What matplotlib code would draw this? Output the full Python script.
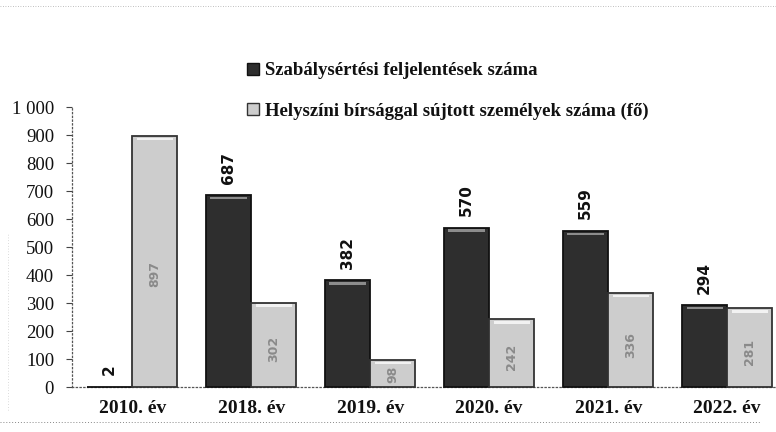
import matplotlib
matplotlib.use("Agg")
import matplotlib.pyplot as plt
from matplotlib.patches import Rectangle
import numpy as np

categories = ["2010. év", "2018. év", "2019. év", "2020. év", "2021. év", "2022. év"]
feljelentes = [2, 687, 382, 570, 559, 294]
birsag = [897, 302, 98, 242, 336, 281]
series_names = ["Szabálysértési feljelentések száma",
                "Helyszíni bírsággal sújtott személyek száma (fő)"]
yticks = [0, 100, 200, 300, 400, 500, 600, 700, 800, 900, 1000]
ytick_labels = ["0", "100", "200", "300", "400", "500", "600", "700", "800", "900", "1 000"]

fig = plt.figure(figsize=(7.76, 4.32), dpi=100)
ax = fig.add_axes([0.093, 0.104, 0.907, 0.648])

x = np.arange(len(categories))
w = 0.38
ax.bar(x - w / 2, feljelentes, width=w, color="#2e2e2e", edgecolor="#111111",
       linewidth=1.3, clip_on=False, zorder=3)
ax.bar(x + w / 2, birsag, width=w, color="#cdcdcd", edgecolor="#333333",
       linewidth=1.3, clip_on=False, zorder=3)

# bevel highlight near the bar tops
fe = np.array(feljelentes, dtype=float)
bi = np.array(birsag, dtype=float)
mask = fe > 30
ax.bar((x - w / 2)[mask], 9, bottom=fe[mask] - 16, width=w * 0.8, color="#8c8c8c",
       linewidth=0, zorder=4)
ax.bar(x + w / 2, 9, bottom=bi - 16, width=w * 0.8, color="#f2f2f2",
       linewidth=0, zorder=4)

ax.set_xlim(-0.504, 5.41)
ax.set_ylim(0, 1000)

for xi, v in zip(x, feljelentes):
    ax.annotate(str(v), (xi - w / 2, v), xytext=(0, 8), textcoords="offset points",
                rotation=90, ha="center", va="bottom", fontsize=11, fontweight="bold",
                family="DejaVu Sans", color="#111111", zorder=5, annotation_clip=False)
for xi, v in zip(x, birsag):
    ax.text(xi + w / 2, v * 0.45, str(v), rotation=90, ha="center", va="center",
            fontsize=9, fontweight="bold", family="DejaVu Sans", color="#8a8a8a", zorder=5)

ax.set_yticks(yticks)
ax.set_yticklabels(ytick_labels, family="Liberation Serif", fontsize=13.5,
                   color="#111111")
ax.set_xticks(x)
ax.set_xticklabels(categories, family="Liberation Serif", fontsize=14, fontweight="bold",
                   color="#111111")
ax.tick_params(axis="x", length=0, pad=9)
ax.tick_params(axis="y", length=4, width=0.8, direction="out", pad=9, color="#444444")

for s in ["top", "right"]:
    ax.spines[s].set_visible(False)
for s in ["left", "bottom"]:
    ax.spines[s].set_linestyle((0, (1, 2)))
    ax.spines[s].set_color("#555555")
    ax.spines[s].set_linewidth(0.9)

handles = [Rectangle((0, 0), 1, 1, facecolor="#2e2e2e", edgecolor="#111111"),
           Rectangle((0, 0), 1, 1, facecolor="#cdcdcd", edgecolor="#333333")]
leg = fig.legend(handles, series_names, loc="upper left", bbox_to_anchor=(0.297, 0.895),
                 frameon=False, ncol=1, handlelength=0.6, handleheight=0.6,
                 handletextpad=0.35, labelspacing=1.25,
                 prop={"family": "Liberation Serif", "weight": "bold", "size": 13.5})
for t in leg.get_texts():
    t.set_color("#111111")

fig.add_artist(plt.Line2D([0.0, 1.0], [0.985, 0.985], transform=fig.transFigure,
                          color="#aaaaaa", linewidth=0.6, linestyle=(0, (1, 2))))
fig.add_artist(plt.Line2D([0.0, 0.98], [0.023, 0.023], transform=fig.transFigure,
                          color="#888888", linewidth=0.7, linestyle=(0, (1, 2))))
fig.add_artist(plt.Line2D([0.01, 0.01], [0.05, 0.46], transform=fig.transFigure,
                          color="#bbbbbb", linewidth=0.5, linestyle=(0, (1, 3))))

fig.savefig("out.png", dpi=100)
